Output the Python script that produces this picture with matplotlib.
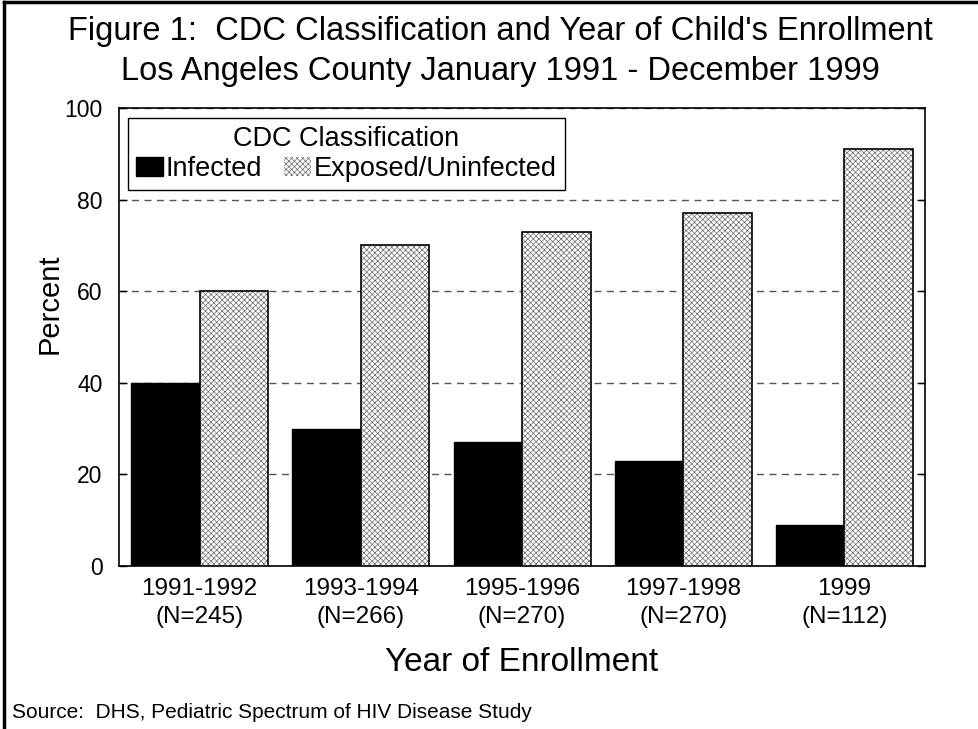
#CDC classification by year of enrollment - grouped bar chart
import numpy as np
import matplotlib
matplotlib.use("Agg")
import matplotlib.pyplot as plt
from matplotlib.lines import Line2D
from matplotlib.patches import Patch

plt.rcParams['font.family'] = ['Liberation Sans', 'DejaVu Sans']
plt.rcParams['hatch.linewidth'] = 0.5

#data
years = ['1991-1992', '1993-1994', '1995-1996', '1997-1998', '1999']
counts = ['(N=245)', '(N=266)', '(N=270)', '(N=270)', '(N=112)']
infected = [40, 30, 27, 23, 9]
exposed = [60, 70, 73, 77, 91]

fig = plt.figure(figsize=(9.79, 7.29), dpi=100)
ax = fig.add_axes([0.1216, 0.2236, 0.8232, 0.6283])

x = np.arange(len(years))
w = 0.425

#solid black bars
ax.bar(x - w/2, infected, w, color='black', edgecolor='black', linewidth=1, zorder=3)
#crosshatched bars, hatch in grey then a black outline on top
ax.bar(x + w/2, exposed, w, color='white', edgecolor='#6a6a6a', hatch='xxxxxx', linewidth=0, zorder=3)
ax.bar(x + w/2, exposed, w, color='none', edgecolor='black', linewidth=1.2, zorder=4)

ax.set_xlim(-0.5, 4.5)
ax.set_ylim(0, 100)
ax.set_yticks([0, 20, 40, 60, 80, 100])
ax.set_xticks(x)
ax.set_xticklabels([y + '\n' + n for y, n in zip(years, counts)], fontsize=17.5, linespacing=1.3)
ax.tick_params(axis='x', length=0, pad=9)
ax.tick_params(axis='y', direction='in', length=6, width=1, right=True, labelsize=16.5, pad=12)

#dashed grey grid lines behind the bars
ax.yaxis.grid(True, color='#555555', linestyle=(0, (5, 4)), linewidth=1)
ax.set_axisbelow(True)
for s in ax.spines.values():
    s.set_linewidth(1.2)

ax.set_ylabel('Percent', fontsize=21)
ax.yaxis.set_label_coords(-0.069, 0.572)
ax.set_xlabel('Year of Enrollment', fontsize=24, labelpad=14)

fig.text(0.511, 1 - 16/729, "Figure 1:  CDC Classification and Year of Child's Enrollment\n"
         "Los Angeles County January 1991 - December 1999",
         ha='center', va='top', fontsize=23.5, linespacing=1.36)

#legend with title
handles = [Patch(facecolor='black', edgecolor='black'),
           Patch(facecolor='white', edgecolor='#6a6a6a', hatch='xxxxxx', linewidth=0)]
leg = ax.legend(handles, ['Infected', 'Exposed/Uninfected'], title='CDC Classification',
                ncol=2, fontsize=19.5, title_fontsize=19.5, loc='upper left',
                bbox_to_anchor=(128/979, 1 - 118/729), bbox_transform=fig.transFigure,
                borderaxespad=0, frameon=True, fancybox=False, framealpha=1,
                handlelength=1.0, handleheight=0.7, handletextpad=0.1,
                columnspacing=0.8, borderpad=0.3, labelspacing=0.15)
leg.get_frame().set_edgecolor('black')
leg.get_frame().set_linewidth(1)

fig.text(12/979, 1 - 713/729, 'Source:  DHS, Pediatric Spectrum of HIV Disease Study',
         ha='left', va='center', fontsize=15)

#border lines on the top and left of the figure
fig.add_artist(Line2D([4/979, 1], [1 - 2/729, 1 - 2/729], color='black', linewidth=2.5))
fig.add_artist(Line2D([4/979, 4/979], [0, 1 - 2/729], color='black', linewidth=2.5))

plt.savefig('out.png', dpi=100)
